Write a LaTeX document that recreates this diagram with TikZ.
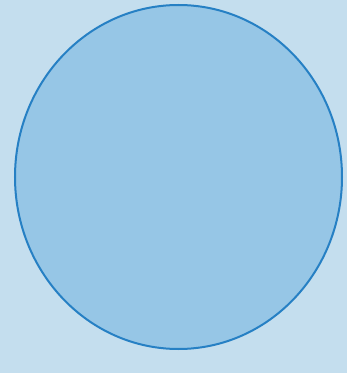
\documentclass[tikz,border=0pt]{standalone}
\usepackage{tikz}
\usepackage{xcolor}
\definecolor{paperblue}{RGB}{196,222,238}
\definecolor{discfill}{RGB}{150,198,230}
\definecolor{discline}{RGB}{38,128,196}

\begin{document}
\begin{tikzpicture}[x=1pt,y=1pt,disc/.style={draw=discline,line width=2pt,fill=discfill}]
\fill[paperblue] (0,0) rectangle (347,373);
\useasboundingbox (0,0) rectangle (347,373);
\draw[disc] (178.5,196) ellipse [x radius=163.5,y radius=172];
\end{tikzpicture}
\end{document}
